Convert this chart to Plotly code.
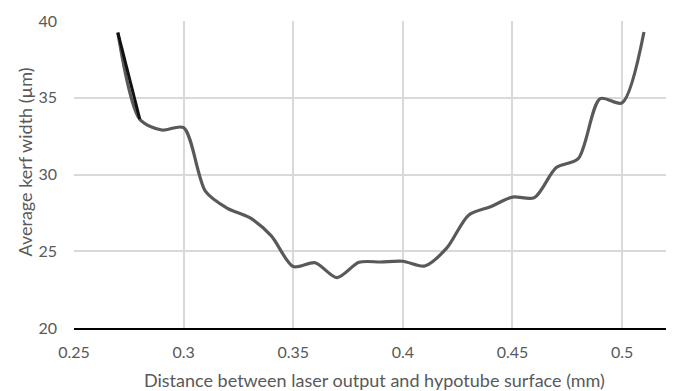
import plotly.graph_objects as go

distance_mm = [0.27, 0.28, 0.29, 0.30, 0.31, 0.32, 0.33, 0.34, 0.35, 0.36, 0.37, 0.38, 0.39,
               0.40, 0.41, 0.42, 0.43, 0.44, 0.45, 0.46, 0.47, 0.48, 0.49, 0.50, 0.51]
kerf_um = [39.25, 33.6, 32.9, 33.05, 28.9, 27.8, 27.2, 26.0, 24.0, 24.25, 23.28, 24.28, 24.3,
           24.35, 24.04, 25.2, 27.35, 27.9, 28.53, 28.49, 30.45, 31.03, 34.94, 34.66, 39.28]

x_ticks = [0.25, 0.3, 0.35, 0.4, 0.45, 0.5]
x_tick_labels = ["0.25", "0.3", "0.35", "0.4", "0.45", "0.5"]
y_ticks = [20, 25, 30, 35, 40]
x_title = "Distance between laser output and hypotube surface (mm)"
y_title = "Average kerf width (µm)"

font_family = "Lato, Open Sans, sans-serif"
text_color = "#595959"

fig = go.Figure()
fig.add_trace(go.Scatter(
    x=distance_mm, y=kerf_um, mode="lines",
    line=dict(color="#595959", width=3.2, shape="spline", smoothing=0.8),
    showlegend=False, hoverinfo="x+y",
))
fig.add_trace(go.Scatter(
    x=distance_mm[:2], y=kerf_um[:2], mode="lines",
    line=dict(color="#111111", width=3.0),
    showlegend=False, hoverinfo="x+y",
))

# The page body has an 8px default margin, so the figure is sized to fit the window.
fig.update_layout(
    width=666, height=383,
    margin=dict(l=66, r=0, t=13, b=63),
    paper_bgcolor="white", plot_bgcolor="white",
    font=dict(family=font_family, color=text_color, size=16),
    xaxis=dict(
        range=[0.25, 0.5237], tickvals=x_ticks, ticktext=x_tick_labels,
        showgrid=True, gridcolor="#d9d9d9", gridwidth=1.5,
        showline=True, linecolor="#000000", linewidth=2,
        zeroline=False, ticks="", ticklabelstandoff=9, automargin=False,
        tickfont=dict(size=16, color=text_color),
    ),
    yaxis=dict(
        range=[20, 40], tickvals=y_ticks,
        showgrid=True, gridcolor="#d9d9d9", gridwidth=1.5,
        showline=False, zeroline=False, ticks="", ticklabelstandoff=16, automargin=False,
        tickfont=dict(size=16, color=text_color),
    ),
    annotations=[
        dict(text=x_title, xref="paper", yref="paper", x=0.5, y=0, yshift=-52,
             xanchor="center", yanchor="middle", showarrow=False,
             font=dict(size=18, color=text_color, family=font_family)),
        dict(text=y_title, xref="paper", yref="paper", x=0, y=0.5, xshift=-50, yshift=12,
             xanchor="center", yanchor="middle", textangle=-90, showarrow=False,
             font=dict(size=18, color=text_color, family=font_family)),
    ],
)

fig.write_html("out.html")
